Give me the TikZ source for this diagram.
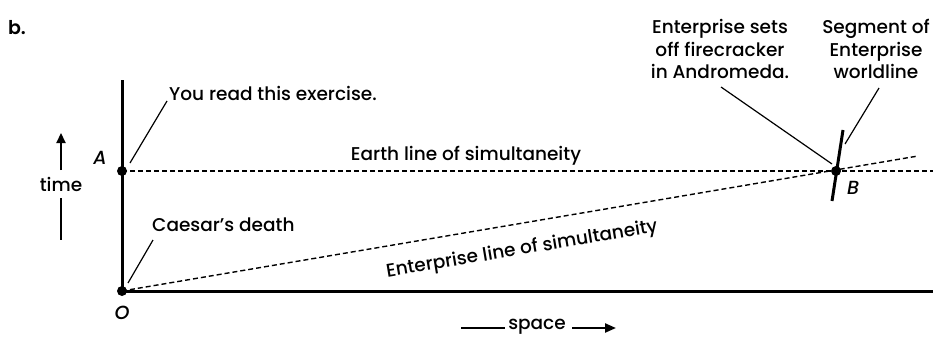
\documentclass[tikz,border=0pt]{standalone}
\usepackage{fontspec}
\setmainfont{Poppins}[UprightFont=* Medium, ItalicFont=* Medium Italic, BoldFont=* SemiBold]
\usetikzlibrary{arrows.meta}
\begin{document}
\begin{tikzpicture}[x=1pt,y=-1pt,
  lbl/.style={font=\fontsize{18.5}{22.5}\selectfont, inner sep=0pt, align=center},
  ilbl/.style={font=\itshape\fontsize{19}{22}\selectfont, inner sep=0pt},
  axis/.style={line width=3pt},
  sim/.style={line width=1.4pt, dash pattern=on 5pt off 3pt},
  lead/.style={line width=1.2pt},
  dot/.style={circle, fill=black, inner sep=0pt, minimum size=10pt}]
\useasboundingbox (0,0) rectangle (933,337);
\node[font=\bfseries\fontsize{19}{22}\selectfont, inner sep=0pt] (b) at (17,28) {b.};
% points
\coordinate (Otop) at (122,80);
\node[dot] (O) at (122,291) {};
\node[dot] (A) at (122,171) {};
\node[dot] (B) at (836,171) {};
\coordinate (xend) at (933,291);
\coordinate (Aend) at (933,171);
\coordinate (Eend) at (918,156);
% axes
\draw[axis] (Otop) -- (O.center) -- (xend);
% simultaneity lines
\draw[sim] (A.center) -- (Aend);
\draw[sim] (O.center) -- (Eend);
% worldline segment
\coordinate (wtop) at (843,130);
\coordinate (wbot) at (832,201);
\draw[line width=3pt] (wtop) -- (wbot);
% point labels
\node[ilbl] (Alab) at (100,158) {A};
\node[ilbl] (Olab) at (122,313) {O};
\node[ilbl] (Blab) at (853,188) {B};
% annotations
\node[lbl, anchor=west] (you) at (169,93) {You read this exercise.};
\coordinate (youA) at (130,163);
\coordinate (youT) at (167,101);
\draw[lead] (youA) -- (youT);
\node[lbl, anchor=west] (caesar) at (152,225) {Caesar's death};
\coordinate (cO) at (128,283);
\coordinate (cT) at (153,240);
\draw[lead] (cO) -- (cT);
\node[lbl] (fire) at (720,49) {Enterprise sets\\off firecracker\\in Andromeda.};
\coordinate (fT) at (721,87);
\coordinate (fB) at (832,164);
\draw[lead] (fT) -- (fB);
\node[lbl] (seg) at (876,49) {Segment of\\Enterprise\\worldline};
\coordinate (sT) at (879,88);
\coordinate (sB) at (845,144);
\draw[lead] (sT) -- (sB);
\node[lbl] (earth) at (466,156) {Earth line of simultaneity};
\node[lbl, rotate=9.5] (ent) at (522,250) {Enterprise line of simultaneity};
% time arrow
\node[lbl] (time) at (61,184) {time};
\coordinate (t1) at (61,170);
\coordinate (t2) at (61,133);
\draw[line width=2.2pt, -{Triangle[length=10pt,width=9pt]}] (t1) -- (t2);
\coordinate (t3) at (61,198);
\coordinate (t4) at (61,240);
\draw[line width=2.2pt] (t3) -- (t4);
% space arrow
\node[lbl] (space) at (537,327) {space};
\coordinate (s1) at (461,328);
\coordinate (s2) at (505,328);
\draw[line width=2.2pt] (s1) -- (s2);
\coordinate (s3) at (572,328);
\coordinate (s4) at (616,328);
\draw[line width=2.2pt, -{Triangle[length=11pt,width=9pt]}] (s3) -- (s4);
\end{tikzpicture}
\end{document}
